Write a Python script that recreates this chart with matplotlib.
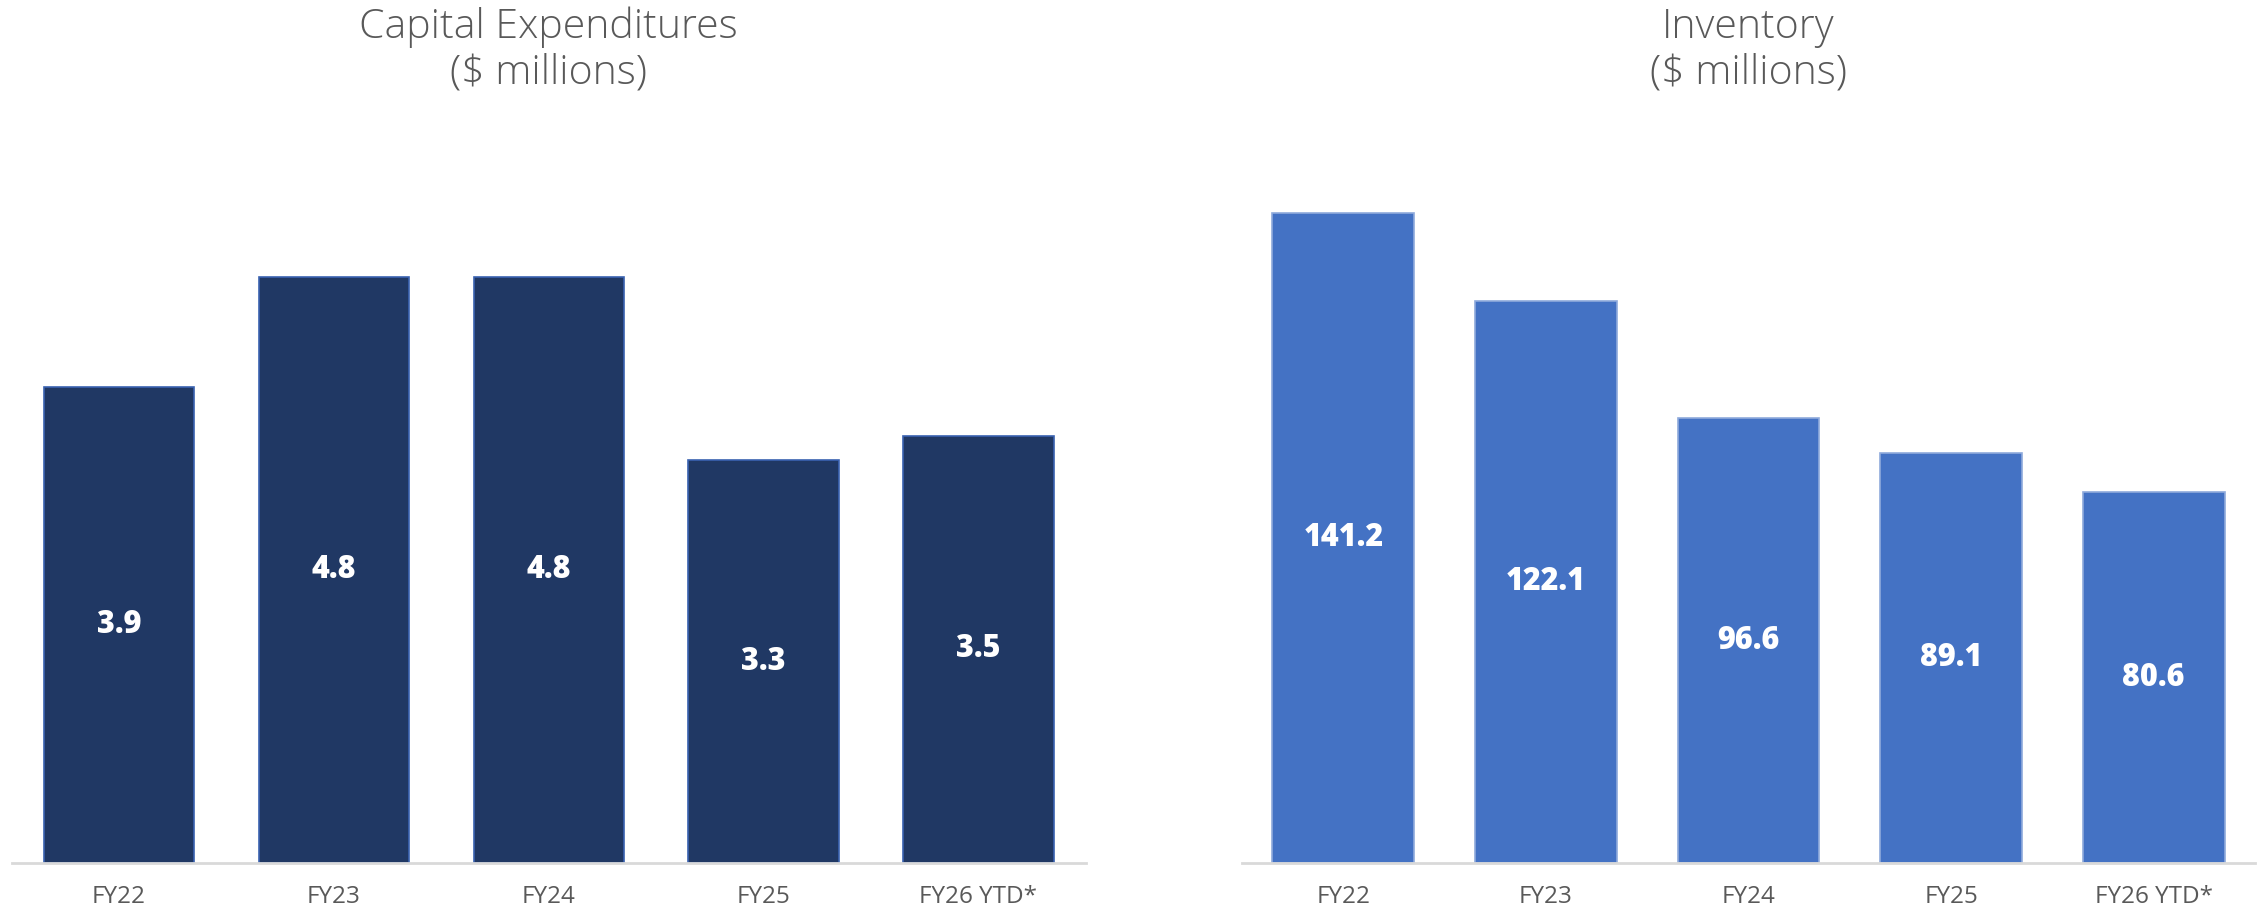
import matplotlib
matplotlib.use('Agg')
from matplotlib import pyplot as plt

years = ['FY22', 'FY23', 'FY24', 'FY25', 'FY26 YTD*']
capex = [3.9, 4.8, 4.8, 3.3, 3.5]
inventory = [141.2, 122.1, 96.6, 89.1, 80.6]

TEXT_GREY = '#595959'
AXIS_GREY = '#D9D9D9'


def bar_panel(ax, values, title, color, edge, ymax):
    x = range(len(values))
    bars = ax.bar(x, values, width=0.7, color=color, edgecolor=edge, linewidth=1.2)
    for b, v in zip(bars, values):
        ax.text(b.get_x() + b.get_width() / 2, v / 2, f'{v:.1f}',
                ha='center', va='center', color='white',
                fontsize=22, fontweight='heavy', family='Open Sans')

    ax.set_xlim(-0.5, len(values) - 0.5)
    ax.set_ylim(0, ymax)
    ax.set_xticks(list(x))
    ax.set_xticklabels(years, fontsize=17.5, color=TEXT_GREY, family='Open Sans')
    ax.tick_params(axis='x', length=0, pad=16)
    ax.set_yticks([])
    for side in ['top', 'left', 'right']:
        ax.spines[side].set_visible(False)
    ax.spines['bottom'].set_color(AXIS_GREY)
    ax.spines['bottom'].set_linewidth(2)
    ax.set_title(title, fontsize=29.5, color=TEXT_GREY, family='Open Sans',
                 fontweight='light', pad=48, linespacing=1.16)


def main():
    fig = plt.figure(figsize=(22.6, 9.08), dpi=100)

    ax1 = fig.add_axes([0.0051, 0.0496, 0.4754, 0.785])
    bar_panel(ax1, capex, 'Capital Expenditures\n($ millions)',
              '#203864', '#3A62B0', 5.84)

    ax2 = fig.add_axes([0.5496, 0.0496, 0.4482, 0.785])
    bar_panel(ax2, inventory, 'Inventory\n($ millions)',
              '#4472C4', '#8FAADC', 154.9)

    plt.savefig('out.png', dpi=100)


main()
